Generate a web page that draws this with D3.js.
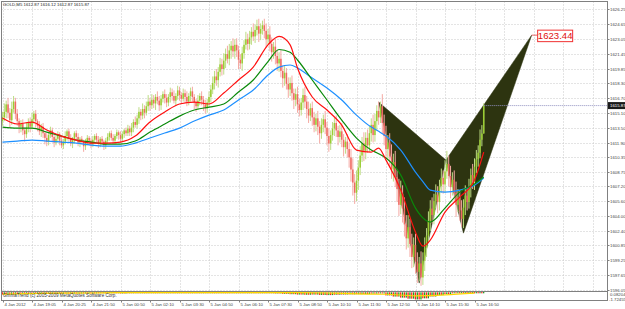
<!DOCTYPE html>
<html>
<head>
<meta charset="utf-8">
<script src="https://cdn.jsdelivr.net/npm/d3@7"></script>
<style>
body { margin: 0; background: #fff; }
svg { display: block; font-family: "Liberation Sans", Arial, sans-serif; }
</style>
</head>
<body>
<svg id="chart" width="625" height="309"></svg>
<script>
// GOLD M5, 4-5 Jan 2012. open of each bar = previous close
var closes = [
    1614.6, 1615.2, 1616.0, 1615.1, 1614.3, 1615.5, 1616.3, 1615.0, 1614.2, 1613.6,
    1613.9, 1613.2, 1612.8, 1613.5, 1614.1, 1613.6, 1614.4, 1615.0, 1614.2, 1613.7,
    1613.1, 1613.6, 1612.9, 1612.4, 1612.0, 1612.7, 1613.2, 1612.5, 1611.9, 1612.3,
    1612.8, 1612.1, 1611.6, 1612.0, 1612.6, 1613.1, 1612.4, 1611.8, 1612.2, 1612.9,
    1612.5, 1611.9, 1612.3, 1612.0, 1611.5, 1611.9, 1612.4, 1612.1, 1611.7, 1612.2,
    1612.6, 1612.2, 1611.8, 1612.3, 1612.0, 1611.6, 1612.1, 1612.5, 1612.9, 1612.4,
    1612.1, 1612.6, 1613.0, 1612.7, 1612.3, 1612.8, 1613.2, 1612.9, 1613.4, 1613.0,
    1613.5, 1614.1, 1613.8, 1614.5, 1615.2, 1614.8, 1615.5, 1615.1, 1615.8, 1616.3,
    1615.9, 1616.5, 1616.1, 1616.8, 1616.4, 1615.9, 1616.6, 1617.1, 1616.7, 1616.2,
    1616.8, 1617.3, 1616.9, 1616.4, 1616.9, 1617.5, 1617.0, 1616.6, 1617.2, 1616.8,
    1616.3, 1616.9, 1617.4, 1616.8, 1616.2, 1615.8, 1616.4, 1616.9, 1616.5, 1616.0,
    1615.6, 1616.2, 1616.8, 1617.6, 1618.3, 1619.0, 1618.6, 1619.5, 1620.3, 1619.8,
    1620.7, 1621.4, 1620.9, 1621.8, 1622.3, 1621.7, 1622.4, 1621.8, 1620.8, 1620.4,
    1621.5, 1622.4, 1623.0, 1622.5, 1623.2, 1623.8, 1623.3, 1624.0, 1624.4, 1623.6,
    1624.1, 1624.5, 1623.9, 1623.0, 1623.5, 1622.5, 1621.6, 1622.2, 1621.2, 1620.4,
    1620.9, 1619.6, 1618.8, 1619.4, 1618.2, 1617.6, 1618.3, 1617.2, 1616.5, 1617.1,
    1616.0, 1615.4, 1616.2, 1617.0, 1616.3, 1615.5, 1614.8, 1615.6, 1614.6, 1613.8,
    1614.5, 1613.6, 1612.9, 1613.8, 1614.4, 1613.5, 1612.6, 1611.8, 1612.7, 1613.4,
    1614.0, 1613.2, 1612.5, 1613.1, 1612.2, 1611.4, 1612.0, 1611.2, 1610.3, 1609.0,
    1607.6, 1606.5, 1607.8, 1609.2, 1610.5, 1611.8, 1611.0, 1612.4, 1611.6, 1612.9,
    1613.8, 1612.7, 1614.2, 1615.3, 1614.6, 1615.8, 1614.0, 1612.6, 1611.2, 1611.9,
    1610.4, 1609.0, 1609.8, 1608.2, 1606.9, 1605.2, 1606.4, 1604.8, 1603.1, 1601.6,
    1602.8, 1601.0, 1599.6, 1600.9, 1599.1, 1598.0, 1598.9, 1597.4, 1599.2, 1600.6,
    1601.9, 1603.5, 1604.8, 1604.1, 1605.6, 1606.3, 1605.5, 1607.2, 1608.1, 1607.4,
    1608.8, 1609.6, 1608.3, 1607.1, 1607.9, 1606.5, 1605.2, 1606.0, 1604.6, 1603.7,
    1604.9, 1606.2, 1605.5, 1607.0, 1608.4, 1607.7, 1609.3, 1610.1, 1610.8, 1612.2,
    1612.87, 1615.87
];
var upWick = [
    .6, .9, .4, .7, .5, .8, .6, .4, .5, .3,
    .4, .5, .3, .6, .4, .5, .7, .3, .4, .2,
    .5, .3, .4, .2, .5, .3, .4, .3, .2, .4,
    .3, .2, .4, .3, .5, .2, .3, .4, .3, .2,
    .3, .4, .2, .3, .2, .4, .3, .2, .3, .4,
    .2, .3, .4, .2, .3, .2, .3, .4, .2, .3,
    .4, .2, .3, .2, .4, .3, .2, .3, .4, .3,
    .5, .3, .6, .4, .5, .3, .6, .4, .5, .7,
    .4, .6, .5, .3, .6, .5, .4, .3, .5, .4,
    .3, .5, .4, .6, .3, .5, .4, .3, .5, .4,
    .6, .3, .4, .5, .3, .4, .6, .3, .5, .4,
    .5, .4, .6, .5, .7, .6, .8, .5, .7, .6,
    .8, .6, .9, .7, .5, .8, .6, .7, .5, .6,
    .7, .5, .8, .6, .7, .5, .9, .6, .7, .8,
    .6, .5, .7, .8, .6, .9, .7, .5, .8, .6,
    .7, .9, .6, .8, .5, .7, .6, .8, .5, .6,
    .8, .6, .5, .7, .9, .6, .8, .5, .7, .6,
    .5, .8, .6, .7, .5, .9, .6, .8, .5, .7,
    .6, .8, .5, .7, .9, .6, .5, .8, .7, .9,
    1.2, .9, 1.1, .8, 1.0, .7, 1.2, .6, .9, .8,
    .7, 1.1, .8, .6, 1.0, .5, 1.3, .9, 1.1, .8,
    1.0, 1.3, .9, 1.2, .8, 1.1, 1.4, .9, 1.2, 1.0,
    1.3, .9, 1.1, .8, 1.2, 1.0, .7, 1.3, .9, 1.1,
    .8, 1.0, .9, 1.2, .8, 1.1, .9, .7, 1.0, .8,
    1.2, 1.4, .9, 1.1, .8, 1.0, 1.2, .9, .8, 1.1,
    .9, 1.1, .8, 1.0, .7, 1.2, .9, 1.0, .8, 1.1,
    .9, .25
];
var dnWick = [
    .5, .4, .7, .6, .8, .5, .4, .6, .5, .7,
    .6, .5, .8, .4, .5, .6, .3, .5, .7, .6,
    .4, .6, .5, .7, .5, .4, .3, .6, .5, .3,
    .4, .5, .3, .4, .3, .5, .4, .3, .5, .4,
    .3, .4, .5, .3, .6, .4, .3, .5, .4, .3,
    .4, .3, .5, .4, .3, .5, .4, .3, .4, .3,
    .3, .4, .3, .5, .4, .3, .4, .3, .3, .4,
    .4, .5, .3, .4, .6, .5, .4, .6, .3, .5,
    .6, .4, .5, .7, .4, .6, .5, .4, .6, .5,
    .4, .6, .5, .3, .5, .4, .6, .5, .3, .6,
    .5, .4, .6, .5, .7, .6, .4, .5, .6, .7,
    .6, .5, .4, .6, .5, .7, .6, .8, .5, .7,
    .6, .8, .5, .7, .9, .6, .8, .7, 1.0, .6,
    .8, .6, .5, .7, .6, .8, .5, .7, .6, .9,
    .7, .6, .8, .9, .6, .8, 1.0, .7, .9, .8,
    .9, .7, 1.0, .8, .6, .9, .7, .8, 1.0, .7,
    .9, .7, .6, .8, .7, 1.0, .8, .6, .9, .8,
    .7, .9, 1.1, .6, .8, .7, 1.0, .9, .7, .6,
    .8, .7, .9, .6, .8, 1.0, .7, .9, 1.1, 1.3,
    1.4, 1.2, .9, 1.0, .8, .7, 1.1, .9, .8, .7,
    .9, .8, .7, 1.0, .8, .6, 1.2, 1.0, .9, 1.1,
    1.2, 1.0, 1.3, 1.1, 1.4, 1.2, 1.0, 1.5, 1.3, 1.2,
    1.0, 1.4, 1.2, 1.1, 1.3, 1.2, 1.0, .9, .8, 1.1,
    1.0, .8, 1.1, .9, 1.0, .8, 1.2, .9, .7, 1.0,
    .9, .8, 1.1, 1.2, .9, 1.0, 1.3, .8, 1.1, .9,
    1.0, .8, .9, .7, 1.0, .8, .9, .7, .8, .6,
    .7, 0
];
var firstOpen = 1614.2;

// moving averages, read every 8 bars
var maBars = [0, 8, 16, 24, 32, 40, 48, 56, 64, 72, 80, 88, 96, 104, 112, 120, 128, 136, 144, 150, 156, 160, 168, 176, 184, 192, 200, 204, 208, 216, 224, 228, 232, 240, 248, 256, 261];
var maRed = [1614.53, 1613.89, 1614.10, 1613.24, 1612.59, 1612.16, 1611.84, 1611.84, 1611.95, 1612.59, 1614.10, 1615.17, 1616.04, 1616.25, 1616.04, 1617.22, 1618.62, 1620.01, 1622.40, 1623.30, 1622.40, 1619.91, 1616.79, 1615.39, 1613.78, 1611.09, 1610.87, 1611.30, 1610.01, 1606.79, 1602.27, 1600.76, 1601.41, 1604.42, 1606.04, 1607.86, 1610.87];
var maGreen = [1613.56, 1613.45, 1613.45, 1613.02, 1612.59, 1612.16, 1611.95, 1611.73, 1611.73, 1612.06, 1613.02, 1613.89, 1614.74, 1615.39, 1615.71, 1616.04, 1617.33, 1618.62, 1620.60, 1621.90, 1621.60, 1620.77, 1618.62, 1616.47, 1614.31, 1612.38, 1611.09, 1610.70, 1610.23, 1608.40, 1604.85, 1603.80, 1603.35, 1604.85, 1606.57, 1607.43, 1608.19];
var maBlue = [1611.95, 1612.06, 1612.16, 1612.06, 1611.95, 1611.84, 1611.63, 1611.52, 1611.52, 1611.84, 1612.38, 1612.92, 1613.45, 1614.21, 1614.85, 1615.39, 1616.47, 1617.54, 1619.15, 1620.00, 1620.23, 1619.91, 1618.83, 1617.76, 1616.47, 1614.85, 1613.56, 1613.10, 1612.59, 1611.09, 1608.72, 1607.70, 1606.79, 1606.57, 1606.79, 1607.32, 1608.08];

// harmonic pattern X A B C D as [bar, price]
var patternPts = [[204, 1616.25], [226, 1596.79], [240.5, 1610.01], [250, 1602.16], [287, 1623.44]];
var targetLabel = '1623.44';

// GmmaTrend sub window, one value every 4 bars
var gmmaHist = [
    -0.35, -0.30, -0.20, -0.15, -0.10, -0.10, -0.05, -0.05, -0.05, -0.10,
    -0.10, -0.05, -0.05, 0.02, 0.02, 0.03, -0.05, 0.05, 0.06, 0.05,
    0.06, 0.05, 0.04, 0.04, 0.05, 0.06, 0.06, 0.05, 0.04, 0.05,
    0.06, 0.06, 0.07, 0.07, 0.06, 0.05, 0.03, -0.05, -0.15, -0.25,
    -0.35, -0.40, -0.35, -0.45, -0.50, -0.40, -0.35, -0.30, -0.25, -0.20,
    -0.10, -0.05, -0.60, -0.90, -1.20, -1.50, -1.70, -1.40, -0.90, -0.50,
    -0.20, 0.02, 0.04, 0.05, 0.06, 0.08
];
var gmmaLine = [-0.40, -0.25, -0.10, -0.05, 0.02, 0.04, 0.05, 0.05, 0.06, 0.06, 0.05, -0.05, -0.30, -0.40, -0.85, -0.60, -0.10];
var gmmaLineBars = [0, 16, 32, 48, 64, 80, 96, 112, 128, 144, 160, 176, 192, 208, 224, 240, 256];

var priceLabels = ['1626.25', '1624.65', '1623.05', '1621.45', '1619.85', '1618.30', '1616.70', '1615.10', '1613.50', '1611.90',
    '1610.35', '1608.75', '1607.20', '1605.60', '1604.00', '1602.40', '1600.85', '1599.25', '1597.65', '1596.05'];
var timeLabels = ['4 Jan 2012', '4 Jan 19:05', '4 Jan 20:25', '4 Jan 21:50', '5 Jan 00:50', '5 Jan 02:10', '5 Jan 03:30',
    '5 Jan 04:50', '5 Jan 06:10', '5 Jan 07:30', '5 Jan 08:50', '5 Jan 10:10', '5 Jan 11:30', '5 Jan 12:50',
    '5 Jan 14:10', '5 Jan 15:30', '5 Jan 16:50'];
var subLabels = ['0.08204', '-1.72455'];
var header = 'GOLD,M5  1612.87 1616.12 1612.87 1615.87';
var subTitle = 'GmmaTrend (c) 2005-2009 MetaQuotes Software Corp.';

var plotL = 1.5, plotR = 607.5, plotT = 1.5, mainB = 291.5, subB = 300.5;
var svg = d3.select('#chart');

var x = d3.scaleLinear().domain([0, 16]).range([2.5, 32]);
var y = d3.scaleLinear().domain([1596.05, 1626.25]).range([290, 9]);
var ySub = d3.scaleLinear().domain([-1.72455, 0.08204]).range([299, 292.5]);

function drawGrid() {
    var g = svg.append('g');
    g.selectAll('line.h').data(priceLabels).enter().append('line')
        .attr('x1', plotL).attr('x2', plotR)
        .attr('y1', function(d) { return Math.round(y(+d)) + 0.5; })
        .attr('y2', function(d) { return Math.round(y(+d)) + 0.5; })
        .attr('stroke', '#c8c8c8').attr('stroke-dasharray', '1,2');
    var ticks = d3.range(0, 330, 16);
    g.selectAll('line.v').data(ticks).enter().append('line')
        .attr('x1', function(d) { return Math.round(x(d)) + 0.5; })
        .attr('x2', function(d) { return Math.round(x(d)) + 0.5; })
        .attr('y1', plotT).attr('y2', mainB)
        .attr('stroke', '#c8c8c8').attr('stroke-dasharray', '1,2');
}

function drawCandles() {
    var g = svg.append('g');
    closes.forEach(function(c, i) {
        var o = i ? closes[i - 1] : firstOpen;
        var hi = Math.max(o, c) + upWick[i];
        var lo = Math.min(o, c) - dnWick[i];
        var bull = c >= o;
        var cx = x(i);
        g.append('line')
            .attr('x1', cx).attr('x2', cx)
            .attr('y1', y(hi)).attr('y2', y(lo))
            .attr('stroke', bull ? '#bddc84' : '#f5aaa4').attr('stroke-width', 1);
        g.append('rect')
            .attr('x', cx - 0.75).attr('width', 1.5)
            .attr('y', y(Math.max(o, c)))
            .attr('height', Math.max(0.8, Math.abs(y(o) - y(c))))
            .attr('fill', bull ? '#9acd32' : '#f06a62');
    });
}

function drawMA(vals, color) {
    var line = d3.line()
        .x(function(d, i) { return x(maBars[i]); })
        .y(function(d) { return y(d); })
        .curve(d3.curveMonotoneX);
    svg.append('path').datum(vals)
        .attr('d', line).attr('fill', 'none')
        .attr('stroke', color).attr('stroke-width', 1.2);
}

function drawPattern() {
    var pts = patternPts.map(function(p) { return [x(p[0]), y(p[1])]; });
    var tri = [[pts[0], pts[1], pts[2]], [pts[2], pts[3], pts[4]]];
    svg.selectAll('path.tri').data(tri).enter().append('path')
        .attr('d', function(d) { return 'M' + d.join('L') + 'Z'; })
        .attr('fill', '#2d3410').attr('stroke', '#2d3410').attr('stroke-width', 0.5);
}

function drawTarget() {
    var d = [x(patternPts[4][0]), y(patternPts[4][1])];
    svg.append('line').attr('x1', d[0]).attr('y1', d[1]).attr('x2', d[0] + 6).attr('y2', d[1])
        .attr('stroke', '#e04040').attr('stroke-width', 0.8);
    var lbl = svg.append('g').attr('transform', 'translate(' + (d[0] + 6) + ',' + (d[1] - 5) + ')');
    lbl.append('rect').attr('width', 35).attr('height', 11.5)
        .attr('fill', '#fff').attr('stroke', '#f03030').attr('stroke-width', 1);
    lbl.append('text').attr('x', 17.5).attr('y', 9.3).attr('text-anchor', 'middle')
        .attr('font-size', 9.6).attr('fill', '#e01010').text(targetLabel);
}

function drawSub() {
    var g = svg.append('g');
    var zero = ySub(0);
    gmmaHist.forEach(function(v, k) {
        for (var j = 0; j < 4; j++) {
            var b = k * 4 + j;
            if (b >= closes.length) break;
            g.append('rect')
                .attr('x', x(b) - 0.7).attr('width', 1.3)
                .attr('y', Math.min(zero, ySub(v)) - 0.5)
                .attr('height', Math.abs(ySub(v) - zero) + 1)
                .attr('fill', (j % 2) ? '#1ea01e' : '#ff2020');
        }
    });
    var line = d3.line()
        .x(function(d, i) { return x(gmmaLineBars[i]); })
        .y(function(d) { return ySub(d); })
        .curve(d3.curveMonotoneX);
    g.append('path').datum(gmmaLine).attr('d', line)
        .attr('fill', 'none').attr('stroke', '#ffd700').attr('stroke-width', 1.2);
    g.append('text').attr('x', 3).attr('y', 297).attr('font-size', 4.6).attr('fill', '#333').text(subTitle);
}

function drawFrame() {
    svg.append('rect').attr('x', plotL).attr('y', plotT)
        .attr('width', plotR - plotL).attr('height', subB - plotT)
        .attr('fill', 'none').attr('stroke', '#808080');
    svg.append('line').attr('x1', plotL).attr('x2', plotR).attr('y1', mainB).attr('y2', mainB)
        .attr('stroke', '#808080');
    // bid line
    svg.append('line').attr('x1', x(closes.length - 1)).attr('x2', plotR)
        .attr('y1', y(1615.87)).attr('y2', y(1615.87))
        .attr('stroke', '#9090c0').attr('stroke-dasharray', '1,1');
}

function drawAxes() {
    var ga = svg.append('g').attr('font-size', 4.3).attr('fill', '#444');
    priceLabels.forEach(function(p) {
        var yy = Math.round(y(+p)) + 0.5;
        ga.append('line').attr('x1', plotR).attr('x2', plotR + 2).attr('y1', yy).attr('y2', yy).attr('stroke', '#808080');
        ga.append('text').attr('x', 610).attr('y', yy + 1.5).text(p);
    });
    var py = y(1615.87);
    ga.append('rect').attr('x', plotR + 0.5).attr('y', py - 3.5).attr('width', 17).attr('height', 7).attr('fill', '#1a1a1a');
    ga.append('text').attr('x', 610).attr('y', py + 1.5).attr('fill', '#fff').text('1615.87');
    ga.append('text').attr('x', 610).attr('y', 296).text(subLabels[0]);
    ga.append('text').attr('x', 609).attr('y', 301).text(subLabels[1]);
    timeLabels.forEach(function(t, k) {
        var xx = Math.round(x(k * 16)) + 0.5;
        ga.append('line').attr('x1', xx).attr('x2', xx).attr('y1', subB).attr('y2', subB + 2).attr('stroke', '#808080');
        ga.append('text').attr('x', xx + 1).attr('y', 306).text(t);
    });
    ga.append('text').attr('x', 3).attr('y', 6).attr('fill', '#222').text(header);
}

drawGrid();
drawPattern();
drawCandles();
drawMA(maBlue, '#1e90ff');
drawMA(maGreen, '#0a8a0a');
drawMA(maRed, '#ff1010');
drawTarget();
drawSub();
drawFrame();
drawAxes();
</script>
</body>
</html>
